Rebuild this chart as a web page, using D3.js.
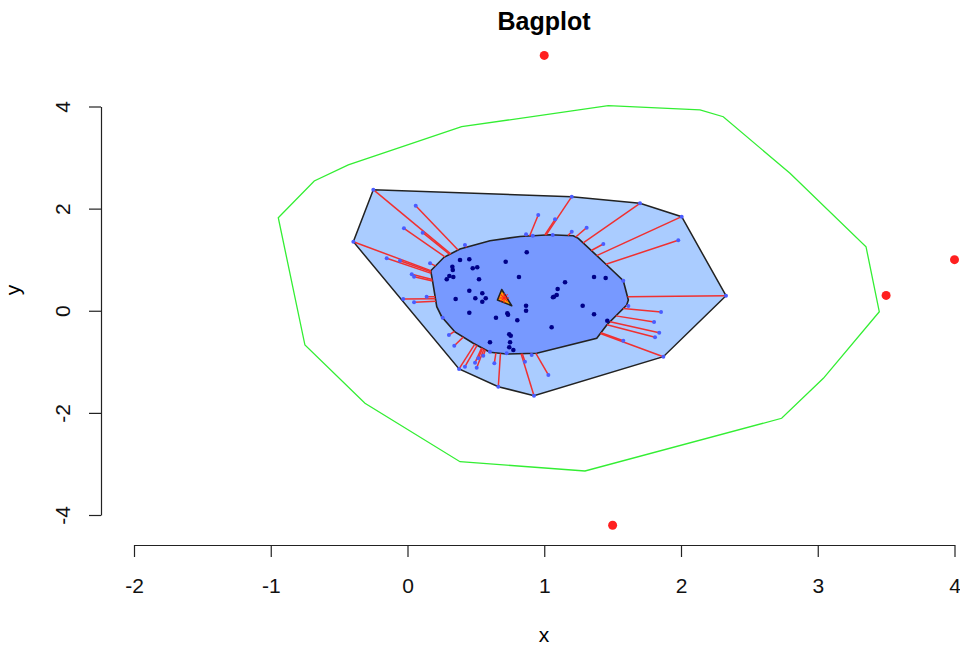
<!DOCTYPE html>
<html>
<head>
<meta charset="utf-8">
<script src="https://cdn.jsdelivr.net/npm/d3@7"></script>
<style>
  html, body { margin: 0; padding: 0; background: #fff; }
  svg { display: block; font-family: "Liberation Sans", Arial, Helvetica, sans-serif; }
</style>
</head>
<body>
<svg id="chart" width="960" height="647"></svg>
<script>
// Observations lying between the bag and the loop (drawn with whiskers)
const loopPoints = [
  [-0.250, 2.371], [0.060, 2.057], [-0.026, 1.615], [0.111, 1.529], [-0.396, 1.352],
  [0.420, 1.288], [-0.152, 1.027], [-0.055, 0.980], [0.165, 0.929], [0.031, 0.714],
  [0.048, 0.667], [-0.031, 0.230], [0.048, 0.165], [0.140, 0.275], [0.257, -0.136],
  [0.303, -0.475], [0.342, -0.684], [0.377, -1.140], [0.420, -1.096], [0.494, -1.017],
  [0.506, -1.115], [0.518, -0.931], [0.554, -0.880], [0.635, -1.029], [0.664, -1.487],
  [0.603, -0.802], [0.725, -0.833], [0.859, -0.998], [0.925, -1.664], [1.030, -1.258],
  [0.908, -0.867], [0.956, 1.875], [1.079, 1.791], [1.201, 2.234], [0.867, 1.497],
  [0.916, 1.470], [1.062, 1.484], [1.201, 1.548], [1.310, 1.627], [1.432, 1.307],
  [1.700, 2.104], [2.005, 1.842], [1.980, 1.380], [2.329, 0.295], [1.578, 0.589],
  [1.615, 0.093], [1.854, -0.024], [1.803, -0.220], [1.841, -0.430], [1.810, -0.520],
  [1.578, -0.587], [1.871, -0.900]
];

// Observations inside the bag
const bagPoints = [
  [0.384, 0.994], [0.452, 1.008], [0.718, 0.961], [0.872, 1.145], [0.328, 0.863],
  [0.331, 0.798], [0.477, 0.831], [0.510, 0.851], [0.306, 0.681], [0.335, 0.661],
  [0.287, 0.616], [0.523, 0.616], [0.815, 0.661], [1.152, 0.557], [1.364, 0.661],
  [1.449, 0.641], [1.098, 0.426], [1.091, 0.308], [1.071, 0.275], [1.064, 0.263],
  [0.452, 0.393], [0.547, 0.342], [0.352, 0.230], [0.496, 0.244], [0.572, 0.244],
  [0.547, 0.177], [0.867, 0.099], [0.867, 0.001], [1.281, 0.099], [0.452, -0.038],
  [0.730, -0.050], [0.735, -0.077], [0.647, -0.136], [0.803, -0.187], [1.364, -0.070],
  [1.461, -0.195], [1.054, -0.324], [0.744, -0.461], [0.755, -0.489], [0.603, -0.618],
  [0.750, -0.618], [0.744, -0.716], [0.774, -0.769]
];

// Observations outside the fence
const outliers = [[1, 5], [4, 1], [3.5, 0.3], [1.5, -4.2]];

// Bag (50% depth region) outline
const bagHull = [
  [0.170, 0.784], [0.267, 1.047], [0.384, 1.209], [0.603, 1.372], [0.823, 1.454],
  [1.042, 1.489], [1.212, 1.470], [1.249, 1.419], [1.457, 0.896], [1.578, 0.589],
  [1.615, 0.211], [1.603, 0.113], [1.457, -0.279], [1.384, -0.540], [0.945, -0.833],
  [0.725, -0.847], [0.603, -0.814], [0.481, -0.637], [0.347, -0.416], [0.250, -0.117],
  [0.214, 0.079], [0.184, 0.569]
];

// Fence outline
const fence = [
  [-0.945, 1.822], [-0.682, 2.541], [-0.433, 2.855], [0.396, 3.605], [1.468, 4.016],
  [2.139, 3.932], [2.309, 3.800], [2.797, 2.692], [3.353, 1.254], [3.450, -0.019],
  [3.041, -1.323], [2.736, -2.106], [1.298, -3.138], [0.384, -2.956], [-0.311, -1.813],
  [-0.750, -0.671]
];

// Deepest region and Tukey median
const centerHull = [[0.689, 0.416], [0.658, 0.211], [0.762, 0.099]];
const tukeyMedian = [0.706, 0.25];

const xTicks = [-2, -1, 0, 1, 2, 3, 4];
const yTicks = [-4, -2, 0, 2, 4];

const svg = d3.select("#chart");
const x = d3.scaleLinear().domain([-2, 4]).range([134, 954.5]);
const y = d3.scaleLinear().domain([-4, 4]).range([515, 106.5]);

const poly = pts => "M" + pts.map(p => x(p[0]) + "," + y(p[1])).join("L") + "Z";
const plain = d => String(d);   // ASCII hyphen for negatives

// Title
svg.append("text")
  .attr("x", 544).attr("y", 30)
  .attr("text-anchor", "middle")
  .attr("font-size", 25).attr("font-weight", "bold")
  .text("Bagplot");

// Axes
const xAxis = svg.append("g")
  .attr("transform", "translate(0,545)")
  .call(d3.axisBottom(x).tickValues(xTicks).tickSize(12).tickSizeOuter(0).tickFormat(plain));
const yAxis = svg.append("g")
  .attr("transform", "translate(101,0)")
  .call(d3.axisLeft(y).tickValues(yTicks).tickSize(12).tickSizeOuter(0).tickFormat(plain));
[xAxis, yAxis].forEach(g => {
  g.selectAll("path.domain").attr("stroke", "#222").attr("stroke-width", 1.2);
  g.selectAll(".tick line").attr("stroke", "#222").attr("stroke-width", 1.2);
  g.selectAll("text").attr("font-size", 21).attr("fill", "#111")
    .attr("font-family", "'Liberation Sans', Arial, sans-serif");
});
xAxis.selectAll(".tick text").attr("y", 48).attr("dy", 0);
yAxis.selectAll(".tick text")
  .attr("transform", "rotate(-90)")
  .attr("x", 0).attr("y", -31).attr("dy", 0)
  .attr("text-anchor", "middle");

svg.append("text").attr("x", 544).attr("y", 642)
  .attr("text-anchor", "middle").attr("font-size", 21).text("x");
svg.append("text")
  .attr("transform", "translate(20,290) rotate(-90)")
  .attr("text-anchor", "middle").attr("font-size", 21).text("y");

// Loop: convex hull of all points inside the fence
const inside = loopPoints.concat(bagPoints);
const loopHull = d3.polygonHull(inside);

svg.append("path").attr("d", poly(fence))
  .attr("fill", "none").attr("stroke", "#33ee33").attr("stroke-width", 1.3);

svg.append("path").attr("d", poly(loopHull))
  .attr("fill", "#aaccff").attr("stroke", "#222").attr("stroke-width", 1.5);

svg.append("path").attr("d", poly(bagHull))
  .attr("fill", "#7799ff").attr("stroke", "#222").attr("stroke-width", 1.6);

// Whiskers: from each loop point toward the median, stopping at the bag
function hitBag(p, c) {
  let best = null;
  for (let i = 0; i < bagHull.length; i++) {
    const a = bagHull[i], b = bagHull[(i + 1) % bagHull.length];
    const rx = c[0] - p[0], ry = c[1] - p[1];
    const sx = b[0] - a[0], sy = b[1] - a[1];
    const den = rx * sy - ry * sx;
    if (Math.abs(den) < 1e-12) continue;
    const t = ((a[0] - p[0]) * sy - (a[1] - p[1]) * sx) / den;
    const u = ((a[0] - p[0]) * ry - (a[1] - p[1]) * rx) / den;
    if (t >= 0 && t <= 1 && u >= 0 && u <= 1 && (best === null || t < best)) best = t;
  }
  if (best === null) return null;
  return [p[0] + best * (c[0] - p[0]), p[1] + best * (c[1] - p[1])];
}

svg.append("g").selectAll("line")
  .data(loopPoints.filter(p => !d3.polygonContains(bagHull, p)))
  .join("line")
  .each(function (p) {
    const q = hitBag(p, tukeyMedian) || p;
    d3.select(this)
      .attr("x1", x(p[0])).attr("y1", y(p[1]))
      .attr("x2", x(q[0])).attr("y2", y(q[1]));
  })
  .attr("stroke", "#f03030").attr("stroke-width", 1.5);

svg.append("g").selectAll("circle")
  .data(loopPoints).join("circle")
  .attr("cx", d => x(d[0])).attr("cy", d => y(d[1])).attr("r", 2)
  .attr("fill", "#4a5cff");

svg.append("g").selectAll("circle")
  .data(bagPoints).join("circle")
  .attr("cx", d => x(d[0])).attr("cy", d => y(d[1])).attr("r", 2.3)
  .attr("fill", "#000088");

svg.append("g").selectAll("circle")
  .data(outliers).join("circle")
  .attr("cx", d => x(d[0])).attr("cy", d => y(d[1])).attr("r", 4.5)
  .attr("fill", "#ff2020");

// Center region and median star
svg.append("path").attr("d", poly(centerHull))
  .attr("fill", "#ffa000").attr("stroke", "#222").attr("stroke-width", 1.6)
  .attr("stroke-linejoin", "round");

const cx = x(tukeyMedian[0]), cy = y(tukeyMedian[1]), s = 5;
const star = svg.append("g").attr("stroke", "#ff2020").attr("stroke-width", 1.1);
[[-s, 0, s, 0], [0, -s, 0, s], [-s * 0.7, -s * 0.7, s * 0.7, s * 0.7], [-s * 0.7, s * 0.7, s * 0.7, -s * 0.7]]
  .forEach(l => star.append("line")
    .attr("x1", cx + l[0]).attr("y1", cy + l[1]).attr("x2", cx + l[2]).attr("y2", cy + l[3]));
</script>
</body>
</html>
